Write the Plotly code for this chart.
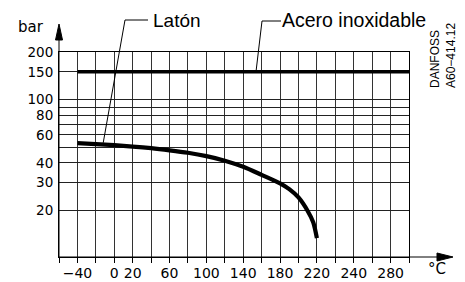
import math
import plotly.graph_objects as go

# ---- data ----
laton_temp = [-40, -20, 0, 20, 40, 60, 80, 100, 120, 140, 160, 180, 190, 200, 210, 216, 220]
laton_bar = [53.2, 52.5, 51.7, 50.7, 49.5, 48.0, 46.3, 44.1, 41.3, 37.8, 33.6, 29.7, 27.3, 24.2, 19.9, 16.9, 13.4]
acero_temp = [-40, 320]
acero_bar = [150, 150]

x_grid = list(range(-60, 321, 20))
x_label_pos = [-40, 0, 20, 60, 100, 140, 180, 220, 260, 300]
x_label_text = ["\u221240", "0", "20", "60", "100", "140", "180", "220", "240", "280"]
y_grid = [20, 30, 40, 50, 60, 70, 80, 90, 100, 150, 200]
y_label_text = ["20", "30", "40", "", "60", "", "80", "", "100", "150", "200"]

X_RANGE = [-60, 320]
Y_MIN, Y_MAX = 10.2, 200
FONT = "DejaVu Sans"

# margins / plot area (px)
L, R, T, B = 59, 56, 52, 25
W, H = 465, 282
PW, PH = W - L - R, H - T - B


def px_to_paper(px, py):
    return (px - L) / PW, (H - B - py) / PH


def data_to_paper(xv, yv):
    xp = (xv - X_RANGE[0]) / (X_RANGE[1] - X_RANGE[0])
    yp = (math.log10(yv) - math.log10(Y_MIN)) / (math.log10(Y_MAX) - math.log10(Y_MIN))
    return xp, yp


xt_text = []
for v in x_grid:
    xt_text.append(x_label_text[x_label_pos.index(v)] if v in x_label_pos else "")

fig = go.Figure()
fig.add_trace(go.Scatter(x=acero_temp, y=acero_bar, mode="lines",
                         line=dict(color="black", width=3.5), hoverinfo="skip"))
fig.add_trace(go.Scatter(x=laton_temp, y=laton_bar, mode="lines",
                         line=dict(color="black", width=4.2, shape="spline", smoothing=0.8),
                         hoverinfo="skip"))

fig.update_xaxes(range=X_RANGE, tickmode="array", tickvals=x_grid, ticktext=xt_text,
                 showgrid=True, gridcolor="#333", gridwidth=1, zeroline=False,
                 showline=True, linecolor="black", linewidth=1, mirror=True,
                 ticks="outside", ticklen=5, tickcolor="black", tickwidth=1,
                 automargin=False, ticklabelstandoff=-2,
                 tickfont=dict(family=FONT, size=14, color="black"), tickangle=0)
fig.update_yaxes(type="log", range=[math.log10(Y_MIN), math.log10(Y_MAX)],
                 tickmode="array", tickvals=y_grid, ticktext=y_label_text,
                 showgrid=True, gridcolor="#222", gridwidth=1, zeroline=False,
                 showline=True, linecolor="black", linewidth=1, mirror=True,
                 ticks="", ticklabelstandoff=2, automargin=False,
                 tickfont=dict(family=FONT, size=13.5, color="black"))

shapes = []
# x-axis extension + arrow
x0p, y0p = px_to_paper(59, 257)
x1p, _ = px_to_paper(450, 257)
shapes.append(dict(type="line", xref="paper", yref="paper", x0=x0p, y0=y0p, x1=x1p, y1=y0p,
                   line=dict(color="black", width=1)))
a1 = px_to_paper(437, 253); a2 = px_to_paper(453, 257); a3 = px_to_paper(437, 261)
shapes.append(dict(type="path", xref="paper", yref="paper",
                   path=f"M {a1[0]},{a1[1]} L {a2[0]},{a2[1]} L {a3[0]},{a3[1]} Z",
                   fillcolor="black", line=dict(color="black", width=1)))
# y-axis extension + arrow
_, ytop = px_to_paper(59, 28)
shapes.append(dict(type="line", xref="paper", yref="paper", x0=x0p, y0=y0p, x1=x0p, y1=ytop,
                   line=dict(color="black", width=1)))
b1 = px_to_paper(55.5, 40); b2 = px_to_paper(59, 24); b3 = px_to_paper(62.5, 40)
shapes.append(dict(type="path", xref="paper", yref="paper",
                   path=f"M {b1[0]},{b1[1]} L {b2[0]},{b2[1]} L {b3[0]},{b3[1]} Z",
                   fillcolor="black", line=dict(color="black", width=1)))
# leader lines
p1 = px_to_paper(148, 20); p2 = px_to_paper(125, 20); p3 = data_to_paper(-12, 53.5)
shapes.append(dict(type="path", xref="paper", yref="paper",
                   path=f"M {p1[0]},{p1[1]} L {p2[0]},{p2[1]} L {p3[0]},{p3[1]}",
                   line=dict(color="black", width=1)))
q1 = px_to_paper(281, 21); q2 = px_to_paper(262, 21); q3 = data_to_paper(154, 152)
shapes.append(dict(type="path", xref="paper", yref="paper",
                   path=f"M {q1[0]},{q1[1]} L {q2[0]},{q2[1]} L {q3[0]},{q3[1]}",
                   line=dict(color="black", width=1)))

annotations = []
lp = px_to_paper(151, 20)
annotations.append(dict(text="Latón", xref="paper", yref="paper", x=lp[0], y=lp[1],
                        xanchor="left", yanchor="middle", showarrow=False,
                        font=dict(family="Liberation Sans", size=19, color="black")))
ap = px_to_paper(280, 20)
annotations.append(dict(text="Acero inoxidable", xref="paper", yref="paper", x=ap[0], y=ap[1],
                        xanchor="left", yanchor="middle", showarrow=False,
                        font=dict(family="Liberation Sans", size=19.5, color="black")))
bp = px_to_paper(31, 27)
annotations.append(dict(text="bar", xref="paper", yref="paper", x=bp[0], y=bp[1],
                        xanchor="center", yanchor="middle", showarrow=False,
                        font=dict(family=FONT, size=15, color="black")))
cp = px_to_paper(437, 269)
annotations.append(dict(text="°C", xref="paper", yref="paper", x=cp[0], y=cp[1],
                        xanchor="center", yanchor="middle", showarrow=False,
                        font=dict(family=FONT, size=15, color="black")))
dp = px_to_paper(443, 56)
annotations.append(dict(text="DANFOSS<br>A60\u2212414.12", xref="paper", yref="paper",
                        x=dp[0], y=dp[1], xanchor="center", yanchor="middle",
                        showarrow=False, textangle=-90, align="left",
                        font=dict(family="Liberation Sans", size=12, color="black")))

fig.update_layout(width=W, height=H, margin=dict(l=L, r=R, t=T, b=B, pad=0),
                  paper_bgcolor="white", plot_bgcolor="white", showlegend=False,
                  shapes=shapes, annotations=annotations)

fig.write_html("out.html", config={"displayModeBar": False},
               post_script="document.body.style.margin='0';document.body.style.overflow='hidden';")
